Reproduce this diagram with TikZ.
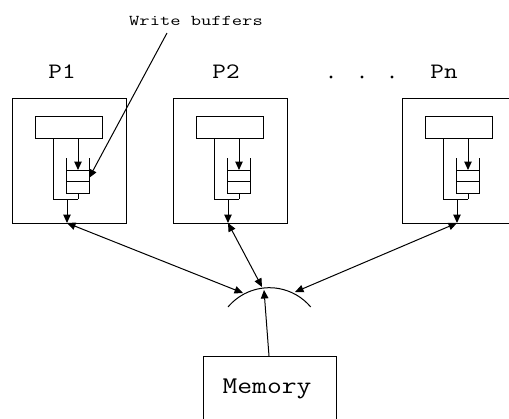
\documentclass[tikz,border=0pt]{standalone}
\usepackage{fontspec}
\usetikzlibrary{arrows.meta}
\tikzset{
  tip/.style={-{Triangle[length=8.5pt,width=7.5pt]}},
  bitip/.style={{Triangle[length=8.5pt,width=7.5pt]}-{Triangle[length=8.5pt,width=7.5pt]}},
  plabel/.style={font=\fontsize{22}{22}\selectfont\ttfamily, inner sep=0pt},
  memfont/.style={font=\fontsize{24}{24}\selectfont\ttfamily, inner sep=0pt},
  smalllabel/.style={font=\fontsize{15}{15}\selectfont\ttfamily, inner sep=0pt},
  outline/.style={draw, line width=1pt},
}
\newcommand{\wide}[2]{\scalebox{#1}[1]{#2}}
\begin{document}
\begin{tikzpicture}[x=1pt, y=-1pt, line width=1pt]
\useasboundingbox (0,0) rectangle (509,418);
\clip (0,0) rectangle (509,418);

% one processor with its cache path and write-buffer queue, left edge at \L
\foreach \n/\L in {1/12, 2/173, n/402}{
  \begin{scope}[xshift=\L pt]
    \node[outline, minimum width=114pt, minimum height=125pt, inner sep=0pt, anchor=north west] (box\n) at (0,98) {};
    \node[outline, minimum width=67pt, minimum height=22pt, inner sep=0pt, anchor=north west] (rect\n) at (23,116) {};
    % queue of write buffers
    \coordinate (qtop\n) at (66,170);
    \coordinate (qbot\n) at (66,193);
    \draw (54,158) -- (54,193) -- (77,193) -- (77,158);
    \draw (54,170) -- (77,170);
    \draw (54,181) -- (77,181);
    % paths out of the cache
    \coordinate (join\n) at (66,199);
    \coordinate (out\n) at (55,199);
    \coordinate (port\n) at (55,223);
    \draw (41,138) -- (41,199) -- (join\n);
    \draw (qbot\n) -- (join\n);
    \draw[tip] (66,138) -- (qtop\n);
    \draw[tip] (out\n) -- (port\n);
  \end{scope}
}

% processor names
\node[plabel] (lp1) at (62,72) {\wide{1.2}{P1}};
\node[plabel] (lp2) at (226,72) {\wide{1.2}{P2}};
\node[plabel] (lpn) at (444,72) {\wide{1.2}{Pn}};
\foreach \x in {331,362,392}
  \fill (\x,77) circle[radius=1.7pt];

% label for the write buffers
\node[smalllabel] (wb) at (196,21) {\wide{1.33}{Write buffers}};
\coordinate (wbstart) at (167,33);
\coordinate (wbend) at (89,178);
\draw[tip] (wbstart) -- (wbend);

% interconnect
\draw (228,307) arc[start angle=220, end angle=320, radius=54];
\coordinate (arcL) at (243,293);
\coordinate (arcM) at (262,287);
\coordinate (arcR) at (295,292);
\coordinate (arcB) at (264,290);
\draw[bitip] (port1) -- (arcL);
\draw[bitip] (port2) -- (arcM);
\draw[bitip] (portn) -- (arcR);

% memory
\node[outline, minimum width=133pt, minimum height=100pt, inner sep=0pt, anchor=north west] (mem) at (203,356) {};
\node[memfont] (memlabel) at (267,389) {\wide{1.2}{Memory}};
\draw[tip] (269,356) -- (arcB);
\end{tikzpicture}
\end{document}
